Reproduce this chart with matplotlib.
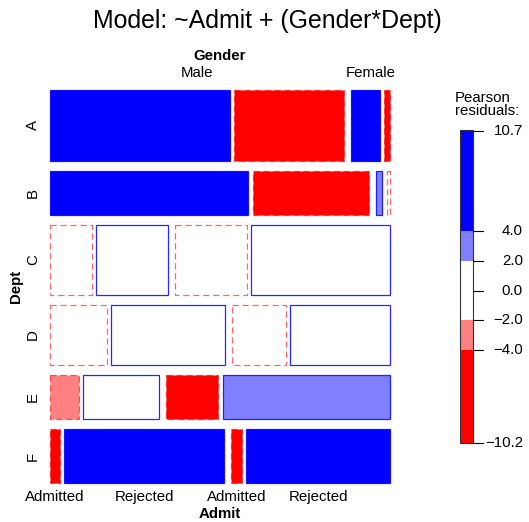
import numpy as np
import matplotlib
matplotlib.use("Agg")
import matplotlib.pyplot as plt
from matplotlib.patches import Rectangle

plt.rcParams['font.family'] = ['Liberation Sans', 'DejaVu Sans']

# ---- data (UCBAdmissions) ----
depts = ['A', 'B', 'C', 'D', 'E', 'F']
genders = ['Male', 'Female']
admit_levels = ['Admitted', 'Rejected']
male_admitted = [512, 353, 120, 138, 53, 22]
male_rejected = [313, 207, 205, 279, 138, 351]
female_admitted = [89, 17, 202, 131, 94, 24]
female_rejected = [19, 8, 391, 244, 299, 317]
legend_ticks = [10.7, 4.0, 2.0, 0.0, -2.0, -4.0, -10.2]

# counts[dept, gender, admit]
counts = np.array([[[ma, mr], [fa, fr]] for ma, mr, fa, fr in
                   zip(male_admitted, male_rejected, female_admitted, female_rejected)], float)
N = counts.sum()
p_admit = counts.sum(axis=(0, 1)) / N
expected = counts.sum(axis=2, keepdims=True) * p_admit[None, None, :]
resid = (counts - expected) / np.sqrt(expected)
rmax, rmin = resid.max(), resid.min()

def fill_color(r):
    if r > 4: return '#0000FF'
    if r > 2: return '#8080FF'
    if r < -4: return '#FF0000'
    if r < -2: return '#FF8080'
    return '#FFFFFF'

fig = plt.figure(figsize=(5.29, 5.22), dpi=100)
ax = fig.add_axes([0, 0, 1, 1])
ax.set_xlim(0, 529)
ax.set_ylim(522, 0)
ax.axis('off')

X0, X1, Y0, Y1 = 50, 390, 90, 483
gap_d, gap_g, gap_a = 10, 7, 4.5
W = X1 - X0
H_avail = (Y1 - Y0) - gap_d * (len(depts) - 1)
dept_tot = counts.sum(axis=(1, 2))

y = Y0
row_centers = []
top_centers = []
bottom_centers = []
for d in range(len(depts)):
    h = dept_tot[d] / N * H_avail
    row_centers.append(y + h / 2)
    g_tot = counts[d].sum(axis=1)
    x = X0
    for g in range(2):
        wg = (W - gap_g) * g_tot[g] / dept_tot[d]
        if d == 0:
            top_centers.append(x + wg / 2)
        xa = x
        for a in range(2):
            wa = (wg - gap_a) * counts[d, g, a] / g_tot[g]
            r = resid[d, g, a]
            if r >= 0:
                ec, ls = (0, 0, 1, 0.85), '-'
            else:
                ec, ls = (1, 0, 0, 0.6), (0, (5, 3))
            ax.add_patch(Rectangle((xa, y), wa, h, facecolor=fill_color(r),
                                   edgecolor=ec, linewidth=0.9, linestyle=ls))
            if d == len(depts) - 1:
                bottom_centers.append(xa + wa / 2)
            xa += wa + gap_a
        x += wg + gap_g
    y += h + gap_d

lab_fs = 10.8
# title
ax.text(267, 21, 'Model: ~Admit + (Gender*Dept)', ha='center', va='center', fontsize=17.9)
# top labels
ax.text((X0 + X1) / 2, 56, 'Gender', ha='center', va='center', fontsize=lab_fs, fontweight='bold')
for g in range(2):
    ax.text(top_centers[g], 73, genders[g], ha='center', va='center', fontsize=lab_fs)
# bottom labels
for i, c in enumerate(bottom_centers):
    ax.text(c, 497, admit_levels[i % 2], ha='center', va='center', fontsize=lab_fs)
ax.text((X0 + X1) / 2, 521.5, 'Admit', ha='center', va='bottom', fontsize=lab_fs, fontweight='bold')
# left labels
for d in range(len(depts)):
    ax.text(33, row_centers[d], depts[d], ha='center', va='center', fontsize=lab_fs, rotation=90)
ax.text(16, (Y0 + Y1) / 2, 'Dept', ha='center', va='center', fontsize=lab_fs,
        fontweight='bold', rotation=90)

# legend
LX0, LX1, LY0, LY1 = 460, 473, 130, 443
def vy(v):
    return LY1 - (v - rmin) / (rmax - rmin) * (LY1 - LY0)
bands = [(4, rmax, '#0000FF'), (2, 4, '#8080FF'), (-2, 2, '#FFFFFF'),
         (-4, -2, '#FF8080'), (rmin, -4, '#FF0000')]
for lo, hi, col in bands:
    ax.add_patch(Rectangle((LX0, vy(hi)), LX1 - LX0, vy(lo) - vy(hi),
                           facecolor=col, edgecolor='none'))
ax.add_patch(Rectangle((LX0, LY0), LX1 - LX0, LY1 - LY0, facecolor='none',
                       edgecolor='#333333', linewidth=0.8))
for t in legend_ticks:
    ax.plot([LX1, 483], [vy(t), vy(t)], color='black', linewidth=0.8)
    ax.text(523, vy(t), f'{t:.1f}'.replace('-', '\u2212'), ha='right', va='center', fontsize=lab_fs)
ax.text(455, 98, 'Pearson', ha='left', va='center', fontsize=lab_fs)
ax.text(455, 111, 'residuals:', ha='left', va='center', fontsize=lab_fs)

fig.savefig('out.png', dpi=100)
